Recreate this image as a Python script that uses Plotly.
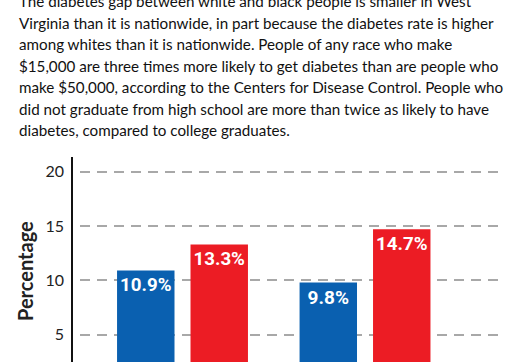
import plotly.graph_objects as go

categories = ["U.S.", "West Virginia"]
white_values = [10.9, 9.8]
black_values = [13.3, 14.7]
series_names = ["White", "Black"]
y_ticks = [5, 10, 15, 20]
y_title = "Percentage"

body_lines = [
    "The diabetes gap between white and black people is smaller in West",
    "Virginia than it is nationwide, in part because the diabetes rate is higher",
    "among whites than it is nationwide. People of any race who make",
    "$15,000 are three times more likely to get diabetes than are people who",
    "make $50,000, according to the Centers for Disease Control. People who",
    "did not graduate from high school are more than twice as likely to have",
    "diabetes, compared to college graduates.",
]

BLUE = "#0a60b0"
RED = "#ec1c24"
BODY_FONT = "Lato, Liberation Sans, sans-serif"
label_font = dict(family="Roboto", size=19, color="white", weight="bold")

fig = go.Figure()
for name, vals, col in [(series_names[0], white_values, BLUE), (series_names[1], black_values, RED)]:
    fig.add_trace(go.Bar(
        x=categories, y=vals, name=name, marker=dict(color=col, line=dict(width=0)),
        text=[f"{v:.1f}%" for v in vals], textposition="inside", insidetextanchor="end",
        textfont=label_font, textangle=0,
    ))

W, H = 526, 362
L, R, T, B = 73, 23, 157, 0
pw, ph = W - L - R, H - T - B

fig.update_layout(
    width=W, height=H,
    margin=dict(l=L, r=R, t=T, b=B, pad=0, autoexpand=False),
    paper_bgcolor="white", plot_bgcolor="white",
    barmode="group", bargap=0.195, bargroupgap=0.218,
    showlegend=False,
    font=dict(family=BODY_FONT, color="#222"),
)
fig.update_xaxes(
    type="category", range=[-0.6, 1.756], showticklabels=False, automargin=False,
    showgrid=False, zeroline=False, showline=False, ticks="",
)
fig.update_yaxes(
    range=[2.49, 21.35], tickvals=y_ticks, ticktext=[str(t) for t in y_ticks], automargin=False,
    tickfont=dict(size=16, color="#222", family=BODY_FONT), ticks="", ticklabelstandoff=4,
    showgrid=True, gridcolor="#a8a8a8", gridwidth=1.5, griddash="0px,7px,10px,0px",
    zeroline=False, showline=True, linecolor="#111", linewidth=1.5,
)

# y-axis title placed where the reference shows it (pixels)
fig.add_annotation(
    text=f"<b>{y_title}</b>", xref="paper", yref="paper",
    x=(25 - L) / pw, y=1 + (T - 271) / ph, xanchor="center", yanchor="middle",
    textangle=-90, showarrow=False,
    font=dict(size=20, color="#222", family=BODY_FONT),
)

# body text line centres in pixels (first line partly above the top edge)
first_center = 1.3
line_step = 21.5
for i, line in enumerate(body_lines):
    cy = first_center + i * line_step
    fig.add_annotation(
        text=line, xref="paper", yref="paper",
        x=(17 - L) / pw, y=1 + (T - cy) / ph, xanchor="left", yanchor="middle",
        align="left", showarrow=False,
        font=dict(size=15.2, color="#111", family=BODY_FONT),
    )

fig.write_html(
    "out.html",
    config={"displayModeBar": False},
    post_script="document.body.style.margin='0';",
)
